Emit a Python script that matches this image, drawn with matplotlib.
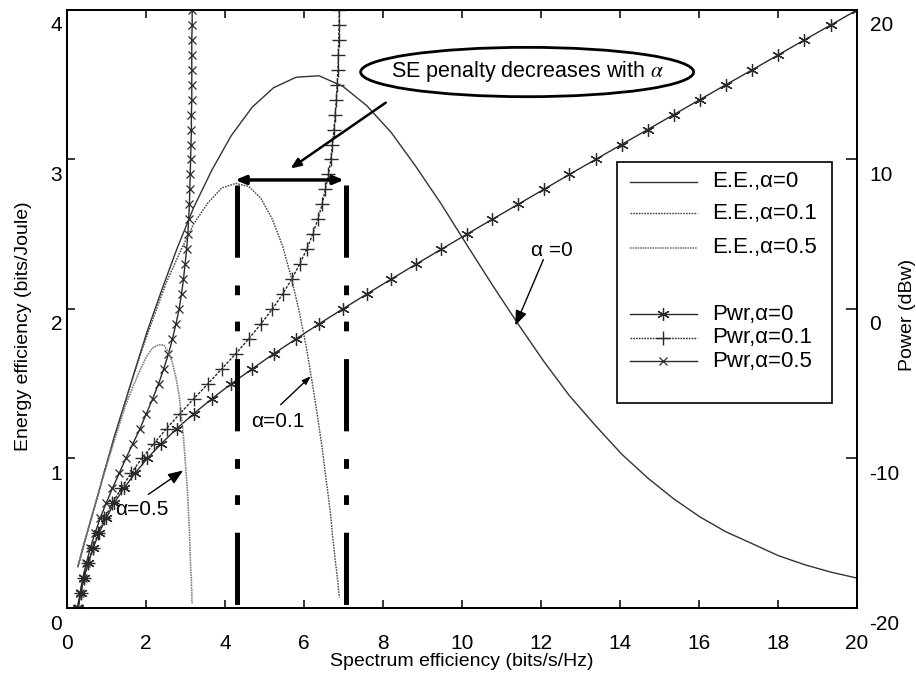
import matplotlib
matplotlib.use("Agg")
import matplotlib.pyplot as plt
from matplotlib.patches import Ellipse, Rectangle
from matplotlib.transforms import ScaledTranslation

plt.rcParams['font.family'] = ['Liberation Sans', 'DejaVu Sans']
plt.rcParams['mathtext.fontset'] = 'stix'
plt.rcParams['lines.scale_dashes'] = False
plt.rcParams['axes.unicode_minus'] = False

# transmit power levels (dBW), one marker per level
power_dbw = [-20, -19, -18, -17, -16, -15, -14, -13, -12, -11, -10,
             -9, -8, -7, -6, -5, -4, -3, -2, -1, 0,
             1, 2, 3, 4, 5, 6, 7, 8, 9, 10,
             11, 12, 13, 14, 15, 16, 17, 18, 19, 20]

# spectrum efficiency (bits/s/Hz) reached at each power level
se_a0 = [0.28, 0.35, 0.43, 0.54, 0.66, 0.81, 0.99, 1.19, 1.44, 1.72, 2.03,
         2.39, 2.78, 3.21, 3.67, 4.16, 4.69, 5.23, 5.80, 6.38, 6.98,
         7.59, 8.21, 8.84, 9.48, 10.12, 10.77, 11.42, 12.07, 12.72, 13.38,
         14.04, 14.70, 15.36, 16.02, 16.68, 17.35, 18.01, 18.67, 19.34, 20.00]
se_a01 = [0.28, 0.35, 0.43, 0.53, 0.65, 0.79, 0.95, 1.15, 1.37, 1.62, 1.89,
          2.20, 2.52, 2.86, 3.21, 3.57, 3.92, 4.27, 4.60, 4.91, 5.20,
          5.46, 5.69, 5.89, 6.07, 6.22, 6.35, 6.46, 6.54, 6.62, 6.68,
          6.72, 6.76, 6.79, 6.82, 6.84, 6.86, 6.87, 6.88, 6.89, 6.89]
se_a05 = [0.27, 0.33, 0.40, 0.49, 0.59, 0.71, 0.84, 0.99, 1.15, 1.32, 1.49,
          1.67, 1.85, 2.01, 2.17, 2.32, 2.45, 2.57, 2.67, 2.76, 2.84,
          2.90, 2.95, 2.99, 3.03, 3.06, 3.08, 3.10, 3.11, 3.12, 3.13,
          3.14, 3.15, 3.15, 3.16, 3.16, 3.16, 3.16, 3.16, 3.17, 3.17]

# energy efficiency (bits/Joule) at the same operating points
ee_a0 = [0.28, 0.35, 0.43, 0.53, 0.64, 0.78, 0.95, 1.14, 1.35, 1.59, 1.85,
         2.12, 2.40, 2.68, 2.93, 3.16, 3.35, 3.48, 3.55, 3.56, 3.49,
         3.36, 3.18, 2.95, 2.70, 2.43, 2.16, 1.90, 1.65, 1.42, 1.22,
         1.03, 0.87, 0.73, 0.61, 0.51, 0.43, 0.35, 0.29, 0.24, 0.20]
ee_a01 = [0.28, 0.34, 0.42, 0.52, 0.63, 0.76, 0.92, 1.09, 1.29, 1.50, 1.72,
          1.95, 2.18, 2.38, 2.57, 2.71, 2.81, 2.84, 2.82, 2.74, 2.60,
          2.42, 2.20, 1.97, 1.73, 1.49, 1.27, 1.07, 0.90, 0.74, 0.61,
          0.49, 0.40, 0.32, 0.26, 0.21, 0.17, 0.13, 0.11, 0.09, 0.07]
ee_a05 = [0.27, 0.33, 0.40, 0.48, 0.58, 0.69, 0.81, 0.94, 1.08, 1.22, 1.36,
          1.48, 1.59, 1.68, 1.74, 1.76, 1.76, 1.71, 1.64, 1.54, 1.42,
          1.28, 1.14, 1.00, 0.86, 0.73, 0.62, 0.52, 0.43, 0.35, 0.28,
          0.23, 0.19, 0.15, 0.12, 0.10, 0.08, 0.06, 0.05, 0.04, 0.03]

x_ticks = [0, 2, 4, 6, 8, 10, 12, 14, 16, 18, 20]
ee_ticks = [0, 1, 2, 3, 4]
pwr_ticks = [-20, -10, 0, 10, 20]

# SE penalty markers (peak of E.E. with alpha=0.1 and the alpha=0 reference)
penalty_se = [4.31, 7.06]
penalty_top = 2.83
penalty_arrow_y = 2.863

asterisk = (6, 2, 0)
dash_dot_dot = (0, (52, 20, 7, 19, 7, 20))


def main():
    fig = plt.figure(figsize=(9.16, 6.83), dpi=100)
    ax = fig.add_axes([0.0731, 0.1098, 0.8625, 0.8756])
    ax2 = ax.twinx()
    ax.set_zorder(ax2.get_zorder() + 1)
    ax.patch.set_visible(False)

    # energy efficiency curves (left axis)
    ax.plot(se_a0, ee_a0, color='#333333', lw=1.0)
    ax.plot(se_a01, ee_a01, color='#444444', lw=1.0, ls=(0, (1.2, 0.8)))
    ax.plot(se_a05, ee_a05, color='#808080', lw=1.2, ls=(0, (1.2, 0.6)))

    # power curves (right axis)
    ax2.plot(se_a0, power_dbw, color='#2a2a2a', lw=1.0,
             marker=asterisk, ms=9, mew=0.9)
    ax2.plot(se_a01, power_dbw, color='#2a2a2a', lw=1.0, ls=(0, (2, 1)),
             marker='+', ms=10, mew=1.0)
    ax2.plot(se_a05, power_dbw, color='#2a2a2a', lw=1.0,
             marker='x', ms=6, mew=0.9)

    ax.set_xlim(0, 20)
    ax.set_ylim(0, 4)
    ax2.set_ylim(-20, 20)
    ax.set_xticks(x_ticks)
    ax.set_yticks(ee_ticks)
    ax2.set_yticks(pwr_ticks)

    for a in (ax, ax2):
        for s in a.spines.values():
            s.set_linewidth(1.3)
    ax.tick_params(axis='x', direction='in', length=6, width=1.1, top=True,
                   labelsize=15, pad=19)
    ax.tick_params(axis='y', direction='in', length=6, width=1.1,
                   labelsize=15, pad=3.5)
    ax2.tick_params(axis='y', direction='in', length=8, width=1.1,
                    labelsize=15, pad=9)

    down = ScaledTranslation(0, -0.14, fig.dpi_scale_trans)
    for lab in ax.get_yticklabels() + ax2.get_yticklabels():
        lab.set_transform(lab.get_transform() + down)

    ax.set_xlabel('Spectrum efficiency (bits/s/Hz)', fontsize=14)
    ax.xaxis.set_label_coords(0.5, -0.075)
    ax.set_ylabel('Energy efficiency (bits/Joule)', fontsize=14)
    ax.yaxis.set_label_coords(-0.044, 0.471)
    ax2.set_ylabel('Power (dBw)', fontsize=14)
    ax2.yaxis.set_label_coords(1.053, 0.49)

    # dash-dot-dot markers of the SE penalty
    for se in penalty_se:
        ax.plot([se, se], [penalty_top, 0], color='black', lw=3.6,
                ls=dash_dot_dot, dash_capstyle='butt')
    ax.annotate('', xy=(penalty_se[0] - 0.05, penalty_arrow_y),
                xytext=(penalty_se[1] - 0.05, penalty_arrow_y),
                arrowprops=dict(arrowstyle='<|-|>,head_length=0.6,head_width=0.25',
                                lw=2.5, color='black', shrinkA=0, shrinkB=0))

    # ellipse callout
    ax.add_patch(Ellipse((11.65, 3.585), 8.43, 0.33, facecolor='white',
                         edgecolor='black', lw=2, zorder=4))
    ax.text(11.65, 3.59, r'SE penalty decreases with $\alpha$', fontsize=15.5,
            ha='center', va='center', zorder=5)
    ax.annotate('', xy=(5.66, 2.94), xytext=(8.07, 3.38),
                arrowprops=dict(arrowstyle='-|>,head_length=0.6,head_width=0.25',
                                lw=1.8, color='black', shrinkA=0, shrinkB=0))

    # curve labels
    ax.text(12.28, 2.39, 'α =0', fontsize=15, ha='center', va='center')
    ax.annotate('', xy=(11.35, 1.89), xytext=(12.06, 2.33),
                arrowprops=dict(arrowstyle='-|>,head_length=0.9,head_width=0.35',
                                lw=1.0, color='black', shrinkA=0, shrinkB=0))
    ax.text(5.33, 1.245, 'α=0.1', fontsize=15, ha='center', va='center')
    ax.annotate('', xy=(6.17, 1.55), xytext=(5.41, 1.36),
                arrowprops=dict(arrowstyle='-|>,head_length=0.5,head_width=0.18',
                                lw=1.0, color='black', shrinkA=0, shrinkB=0))
    ax.text(1.9, 0.66, 'α=0.5', fontsize=15, ha='center', va='center')
    ax.annotate('', xy=(2.94, 0.92), xytext=(2.06, 0.76),
                arrowprops=dict(arrowstyle='-|>,head_length=0.9,head_width=0.35',
                                lw=1.0, color='black', shrinkA=0, shrinkB=0))

    # legend box drawn by hand to keep the MATLAB spacing
    tr = ax.transAxes
    ax.add_patch(Rectangle((0.696, 0.343), 0.272, 0.403, transform=tr,
                           facecolor='white', edgecolor='black', lw=1.2,
                           zorder=6))
    entries = [
        (0.7124, 'E.E.,α=0', dict(color='#333333', lw=1.0), None),
        (0.6605, 'E.E.,α=0.1', dict(color='#444444', lw=1.0, ls=(0, (1.2, 0.8))), None),
        (0.602, 'E.E.,α=0.5', dict(color='#808080', lw=1.2, ls=(0, (1.2, 0.6))), None),
        (0.4916, 'Pwr,α=0', dict(color='#2a2a2a', lw=1.0), dict(marker=asterisk, ms=9, mew=0.9)),
        (0.4515, 'Pwr,α=0.1', dict(color='#2a2a2a', lw=1.0, ls=(0, (1.2, 0.8))), dict(marker='+', ms=10, mew=1.0)),
        (0.413, 'Pwr,α=0.5', dict(color='#2a2a2a', lw=1.0), dict(marker='x', ms=6, mew=0.9)),
    ]
    for y, label, style, mk in entries:
        ax.plot([0.7127, 0.7975], [y, y], transform=tr, zorder=7, **style)
        if mk is not None:
            ax.plot([0.755], [y], transform=tr, color='#2a2a2a', ls='none',
                    zorder=7, **mk)
        ax.text(0.8165, y, label, transform=tr, fontsize=16, va='center',
                zorder=7)

    fig.savefig('out.png', dpi=100)


if __name__ == "__main__":
    main()
